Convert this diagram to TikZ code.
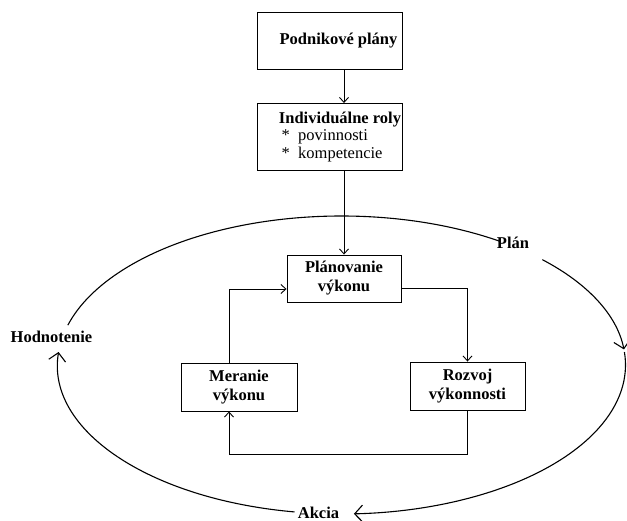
\documentclass[tikz,border=0pt]{standalone}
\usepackage{fontspec}
\setmainfont{Liberation Serif}
\usetikzlibrary{arrows.meta}
\begin{document}
\begin{tikzpicture}[x=1pt,y=-1pt,
  box/.style={draw,line width=0.9pt,inner sep=0pt,align=center,font=\fontsize{16.5}{19}\selectfont},
  lbl/.style={font=\bfseries\fontsize{16.5}{19}\selectfont,inner sep=0pt,anchor=base},
  conn/.style={line width=0.9pt,-{Straight Barb[length=5pt,width=9pt,line width=0.9pt]}},
  loop/.style={line width=1.1pt},
  looparrow/.style={line width=1.1pt,-{Straight Barb[length=8pt,width=17pt,line width=1.1pt]}},
  ell/.style={x radius=284pt,y radius=149pt}]
\useasboundingbox (0,0) rectangle (627,521);
\node[box,minimum width=145pt,minimum height=57pt] (pp) at (329.5,40.5) {\hspace*{18pt}\bfseries Podnikové plány};
\node[box,minimum width=145pt,minimum height=67pt] (ir) at (329.5,137) {\begin{tabular}{@{\hspace{21pt}}l@{}}\bfseries Individuálne roly\\[-1.5pt]\,* \ povinnosti\\[-1.5pt]\,* \ kompetencie\end{tabular}};
\node[box,minimum width=114pt,minimum height=47pt] (pl) at (344,278.5) {\bfseries Plánovanie\\\bfseries výkonu};
\node[box,minimum width=115pt,minimum height=48pt] (rz) at (467.5,386) {\bfseries Rozvoj\\\bfseries výkonnosti};
\node[box,minimum width=116pt,minimum height=48pt] (me) at (239,387) {\bfseries Meranie\\\bfseries výkonu};
\draw[conn] (pp.south -| pl.north) -- (ir.north -| pl.north);
\draw[conn] (ir.south -| pl.north) -- (pl.north);
\draw[conn] ([yshift=-9.5pt]pl.east) -| (rz.north);
\draw[conn] (rz.south) -- ++(0,44) -| ([xshift=-10pt]me.south);
\draw[conn] ([xshift=-10pt]me.north) |- ([yshift=-10.5pt]pl.west);
\node[lbl] (hod) at (51.5,343) {Hodnotenie};
\node[lbl] (plan) at (513,249) {Plán};
\node[lbl] (akc) at (318.5,518) {Akcia};
\coordinate (ec) at (341.5,365);
\draw[loop] ([shift={(56:284pt and 149pt)}]ec) arc[start angle=56,end angle=164.5,ell];
\draw[looparrow] ([shift={(260.5:284pt and 149pt)}]ec) arc[start angle=260.5,end angle=175,ell];
\draw[looparrow] ([shift={(45:284pt and 149pt)}]ec) arc[start angle=45,end angle=6,ell];
\draw[looparrow] ([shift={(5:284pt and 149pt)}]ec) arc[start angle=5,end angle=-87.5,ell];
\end{tikzpicture}
\end{document}
